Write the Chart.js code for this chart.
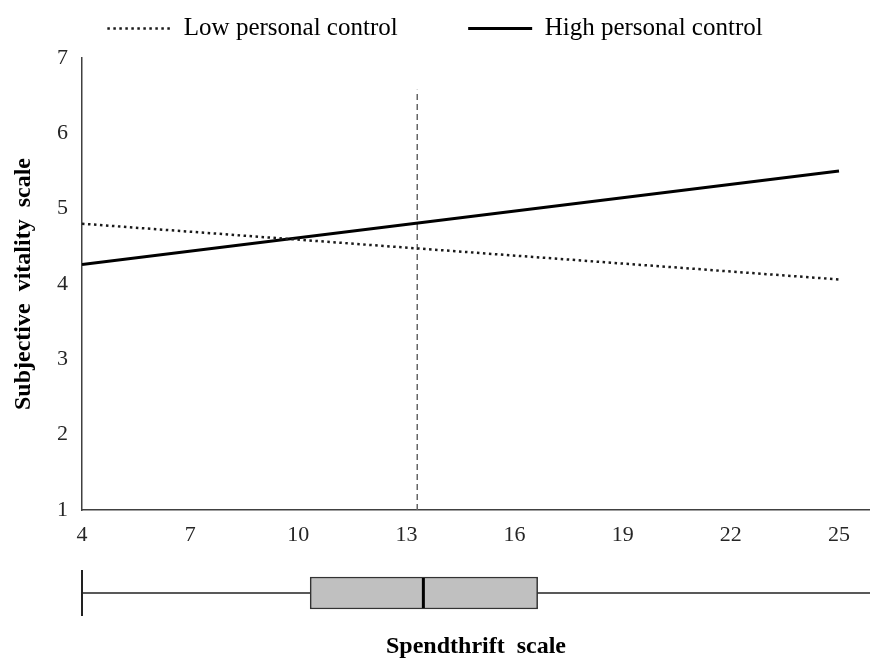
<!DOCTYPE html>
<html>
<head>
<meta charset="utf-8">
<script src="https://cdn.jsdelivr.net/npm/chart.js@4.4.0/dist/chart.umd.min.js"></script>
<style>
  body { margin: 0; background: #fff; }
  #wrap { position: relative; width: 870px; height: 661px; }
  #main { position: absolute; left: 0; top: 0; }
  #box { position: absolute; left: 0; top: 560px; }
</style>
</head>
<body>
<div id="wrap">
  <canvas id="main" width="870" height="560"></canvas>
  <canvas id="box" width="870" height="101"></canvas>
</div>
<script>
// values
var seriesNames = ['Low personal control', 'High personal control'];
var lineX = [4, 25];
var lowControl = [4.80, 4.06];
var highControl = [4.26, 5.50];
var meanX = 13.3;
var meanLineY = [1, 6.58];
var xTicks = [4, 7, 10, 13, 16, 19, 22, 25];
var xMin = 4, xMax = 25.86;

// spendthrift box plot
var boxMin = 4, boxQ1 = 10.33, boxMedian = 13.47, boxQ3 = 16.64, boxMax = 25.86;

var serif = 'Liberation Serif, Times New Roman, serif';
var axisColor = '#404040';
var textColor = '#262626';

// extra room under the legend
var legendGap = {
    id: 'legendGap',
    beforeInit: function (chart) {
        var fit = chart.legend.fit;
        chart.legend.fit = function () {
            fit.call(this);
            this.height += 7;
        };
    }
};

function toPoints(xs, ys) {
    return xs.map(function (x, i) { return {x: x, y: ys[i]}; });
}

new Chart(document.getElementById('main'), {
    type: 'scatter',
    data: {
        datasets: [{
            label: seriesNames[0],
            data: toPoints(lineX, lowControl),
            showLine: true,
            borderColor: '#1a1a1a',
            borderWidth: 2.5,
            borderDash: [2.5, 3.5],
            pointRadius: 0
        }, {
            label: seriesNames[1],
            data: toPoints(lineX, highControl),
            showLine: true,
            borderColor: '#000',
            borderWidth: 3,
            pointRadius: 0
        }, {
            label: 'mean',
            data: toPoints([meanX, meanX], meanLineY),
            showLine: true,
            borderColor: '#666',
            borderWidth: 1.5,
            borderDash: [6, 4],
            pointRadius: 0
        }]
    },
    options: {
        responsive: false,
        animation: false,
        layout: { padding: { top: 8, left: 0, right: 0, bottom: 0 } },
        plugins: {
            tooltip: { enabled: false },
            legend: {
                labels: {
                    usePointStyle: true,
                    pointStyle: 'line',
                    pointStyleWidth: 64,
                    padding: 8,
                    color: '#000',
                    font: { family: serif, size: 25 },
                    generateLabels: function (chart) {
                        var items = Chart.defaults.plugins.legend.labels.generateLabels(chart);
                        return items.filter(function (it) { return it.datasetIndex < 2; }).map(function (it, k) {
                            var ds = chart.data.datasets[it.datasetIndex];
                            it.lineDash = ds.borderDash || [];
                            it.lineWidth = ds.borderWidth;
                            it.strokeStyle = ds.borderColor;
                            it.pointStyle = 'line';
                            if (k === 0) it.text += '\u2003\u2003\u2002';
                            return it;
                        });
                    }
                }
            }
        },
        scales: {
            x: {
                type: 'linear',
                min: xMin,
                max: xMax,
                grid: { display: false, drawTicks: false },
                border: { color: axisColor, width: 1.5 },
                ticks: { padding: 12, color: textColor, font: { family: serif, size: 22 } },
                afterBuildTicks: function (scale) {
                    scale.ticks = xTicks.map(function (v) { return {value: v}; });
                },
                afterFit: function (scale) { scale.height = 50; }
            },
            y: {
                min: 1,
                max: 7,
                grid: { display: false, drawTicks: false },
                border: { color: axisColor, width: 1.5 },
                ticks: { stepSize: 1, padding: 14, color: textColor, font: { family: serif, size: 22 } },
                title: {
                    display: true,
                    text: 'Subjective  vitality  scale',
                    color: '#000',
                    padding: { top: 9, bottom: 0 },
                    font: { family: serif, size: 24, weight: 'bold' }
                },
                afterFit: function (scale) { scale.width = 82; }
            }
        }
    },
    plugins: [legendGap]
});

// box plot y axis runs in pixels, centred on the whisker
var boxHalf = 16, capHalf = 23;

function pixelRange(scale) {
    scale.min = -scale.height / 2;
    scale.max = scale.height / 2;
}

new Chart(document.getElementById('box'), {
    type: 'scatter',
    data: {
        datasets: [{
            type: 'bar',
            indexAxis: 'y',
            data: [{x: [boxQ1, boxQ3], y: 0}],
            backgroundColor: '#c0c0c0',
            borderColor: '#333',
            borderWidth: 1.5,
            borderSkipped: false,
            barThickness: boxHalf * 2,
            order: 2
        }, {
            data: toPoints([boxMin, boxMax], [0, 0]),
            showLine: true,
            borderColor: '#222',
            borderWidth: 1.5,
            pointRadius: 0,
            clip: false,
            order: 3
        }, {
            data: toPoints([boxMin, boxMin], [-capHalf, capHalf]),
            showLine: true,
            borderColor: '#222',
            borderWidth: 2,
            pointRadius: 0,
            clip: false,
            order: 1
        }, {
            data: toPoints([boxMedian, boxMedian], [-boxHalf + 1, boxHalf - 1]),
            showLine: true,
            borderColor: '#000',
            borderWidth: 3,
            pointRadius: 0,
            order: 0
        }]
    },
    options: {
        responsive: false,
        animation: false,
        layout: { padding: { top: 3, left: 82, right: 0, bottom: 0 } },
        plugins: { legend: { display: false }, tooltip: { enabled: false } },
        scales: {
            x: {
                type: 'linear',
                min: xMin,
                max: xMax,
                grid: { display: false },
                border: { display: false },
                ticks: { display: false },
                title: {
                    display: true,
                    text: 'Spendthrift  scale',
                    color: '#000',
                    padding: { top: 7, bottom: 0 },
                    font: { family: serif, size: 24, weight: 'bold' }
                },
                afterFit: function (scale) { scale.height = 38; }
            },
            y: {
                type: 'linear',
                display: false,
                offset: false,
                bounds: 'data',
                afterDataLimits: pixelRange,
                afterBuildTicks: pixelRange
            }
        }
    }
});
</script>
</body>
</html>
